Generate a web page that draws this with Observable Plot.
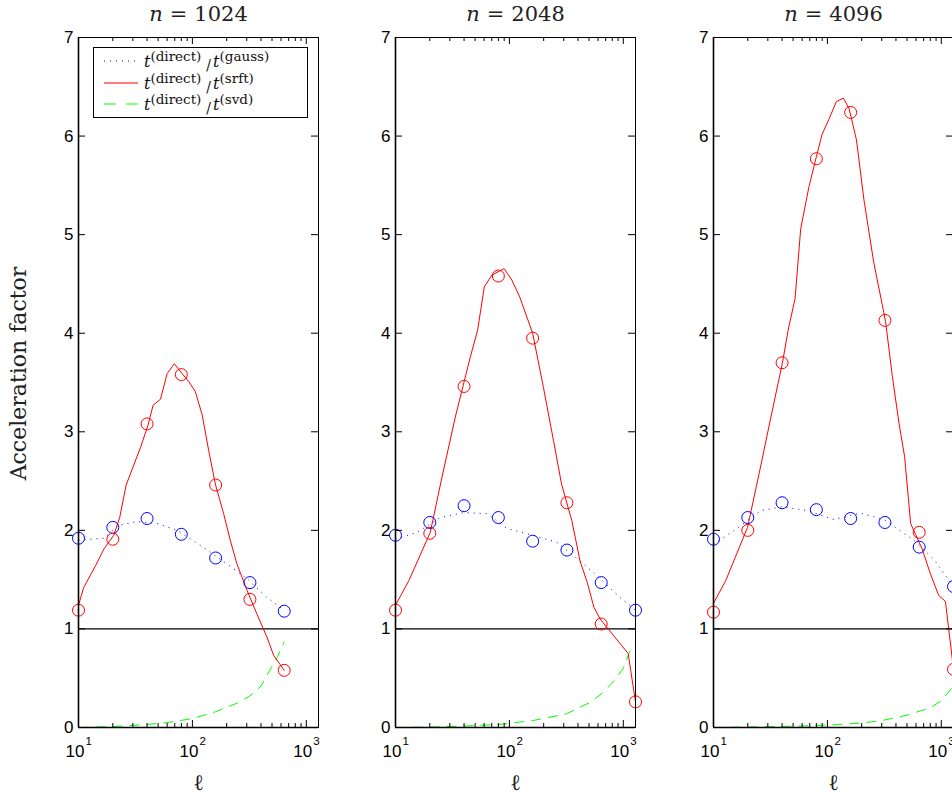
<!DOCTYPE html>
<html><head><meta charset="utf-8">
<script src="https://cdn.jsdelivr.net/npm/d3@7"></script>
<script src="https://cdn.jsdelivr.net/npm/@observablehq/plot@0.6"></script>
<style>
html,body{margin:0;padding:0;background:#fff;overflow:hidden;width:952px;height:797px;}
#wrap{position:relative;width:952px;height:797px;overflow:hidden;}
.panel{position:absolute;top:0;}
.legend{position:absolute;left:93px;top:47px;width:215px;height:71px;border:1px solid #000;background:#fff;box-sizing:border-box;}
.lrow{position:absolute;left:0;height:20px;width:212px;}
.lrow svg{position:absolute;left:9px;top:0;}
.lt{position:absolute;left:50px;top:2px;font-family:"DejaVu Serif",serif;font-size:16px;line-height:18px;color:#111;white-space:nowrap;}
.lt i{font-style:italic;}
.lt sup{font-size:13.5px;vertical-align:6px;line-height:0;}
.lt .sl{display:inline-block;transform:translateY(3px);margin:0 2px 0 5px;font-size:14px;}
</style></head><body><div id="wrap"></div>
<script>
// ---- data ----
const panelN = ["1024", "2048", "4096"];
const circleL = [10, 20, 40, 80, 160, 320, 640, 1280];

// n = 1024
const gaussCircles1 = [1.92, 2.03, 2.12, 1.96, 1.72, 1.47, 1.18];
const srftCircles1 = [1.19, 1.91, 3.08, 3.58, 2.46, 1.30, 0.58];
const srftLineL1 = [10, 11.1, 14.1, 16.7, 20.4, 23, 26.2, 35, 40.6, 45.2, 52.4, 60, 69.4, 81.2, 92.9, 106, 122, 139, 159, 188, 215, 246, 302, 369, 450, 518, 640];
const srftLineV1 = [1.24, 1.42, 1.64, 1.81, 1.95, 2.13, 2.46, 2.84, 3.06, 3.27, 3.33, 3.59, 3.69, 3.59, 3.51, 3.41, 3.17, 2.81, 2.47, 2.17, 1.90, 1.66, 1.39, 1.15, 0.92, 0.73, 0.58];
const gaussLineL1 = [10, 16.7, 22.6, 32.7, 49, 73.5, 117, 201, 302, 450, 640];
const gaussLineV1 = [1.90, 1.92, 2.05, 2.09, 2.07, 2.00, 1.85, 1.66, 1.51, 1.32, 1.19];
const svdLineL1 = [10, 20, 40, 60, 100, 160, 250, 320, 400, 500, 560, 640];
const svdLineV1 = [0.0, 0.01, 0.03, 0.05, 0.09, 0.16, 0.25, 0.32, 0.42, 0.62, 0.72, 0.87];

// n = 2048
const gaussCircles2 = [1.95, 2.08, 2.25, 2.13, 1.89, 1.80, 1.47, 1.19];
const srftCircles2 = [1.19, 1.97, 3.46, 4.58, 3.95, 2.28, 1.05, 0.26];
const srftLineL2 = [10, 13.1, 20.2, 25.6, 33.5, 45.4, 52.6, 60.2, 70.2, 90, 105, 123, 160, 199, 244, 287, 353, 417, 483, 552, 627, 1104, 1280];
const srftLineV2 = [1.24, 1.49, 1.98, 2.54, 3.15, 3.76, 4.03, 4.47, 4.59, 4.655, 4.54, 4.37, 4.0, 3.45, 2.91, 2.47, 2.10, 1.69, 1.47, 1.22, 1.10, 0.75, 0.26];
const gaussLineL2 = [10, 15.5, 24.8, 39.7, 63.6, 95, 160, 260, 417, 627, 935, 1280];
const gaussLineV2 = [1.91, 1.98, 2.13, 2.18, 2.17, 2.02, 1.95, 1.88, 1.69, 1.51, 1.32, 1.19];
const svdLineL2 = [10, 20, 40, 80, 160, 320, 500, 640, 800, 1000, 1200];
const svdLineV2 = [0.0, 0.005, 0.015, 0.03, 0.07, 0.14, 0.25, 0.34, 0.45, 0.6, 0.84];

// n = 4096
const gaussCircles3 = [1.91, 2.13, 2.28, 2.21, 2.12, 2.08, 1.83, 1.43];
const srftCircles3 = [1.17, 2.00, 3.70, 5.77, 6.24, 4.13, 1.98, 0.59];
const srftLineL3 = [10, 12.8, 19.9, 25.2, 31.8, 40.3, 45.2, 52, 58.3, 69, 80, 90, 103, 120, 138, 155, 180, 209, 255, 303, 324, 372, 425, 476, 538, 594, 680, 804, 949, 1087, 1280];
const srftLineV3 = [1.26, 1.49, 2.03, 2.58, 3.14, 3.70, 4.03, 4.35, 5.06, 5.49, 5.79, 6.02, 6.17, 6.35, 6.385, 6.28, 5.96, 5.36, 4.72, 4.29, 4.12, 3.56, 3.09, 2.75, 2.07, 1.96, 1.81, 1.556, 1.34, 1.28, 0.59];
const gaussLineL3 = [10, 15.2, 26, 40.3, 66.7, 114, 196, 314, 574, 861, 1280];
const gaussLineV3 = [1.86, 2.00, 2.20, 2.24, 2.20, 2.11, 2.175, 2.11, 1.90, 1.705, 1.43];
const svdLineL3 = [10, 40, 80, 120, 200, 300, 500, 800, 1000, 1280];
const svdLineV3 = [0.0, 0.01, 0.02, 0.03, 0.045, 0.07, 0.125, 0.2, 0.27, 0.42];

// ticks
const yTicks = [0, 1, 2, 3, 4, 5, 6, 7];
const xMajor = [10, 100, 1000];
const xMinor = [20, 30, 40, 50, 60, 70, 80, 90, 200, 300, 400, 500, 600, 700, 800, 900];
const yLabel = "Acceleration factor";
const xLabel = "ℓ";
const seriesNames = ["gauss", "srft", "svd"];

// ---- build ----
const zip = (L, V) => L.map((l, i) => ({l, v: V[i]}));
const panels = [
  {n: panelN[0], gc: gaussCircles1, sc: srftCircles1, sl: zip(srftLineL1, srftLineV1), gl: zip(gaussLineL1, gaussLineV1), vl: zip(svdLineL1, svdLineV1)},
  {n: panelN[1], gc: gaussCircles2, sc: srftCircles2, sl: zip(srftLineL2, srftLineV2), gl: zip(gaussLineL2, gaussLineV2), vl: zip(svdLineL2, svdLineV2)},
  {n: panelN[2], gc: gaussCircles3, sc: srftCircles3, sl: zip(srftLineL3, srftLineV3), gl: zip(gaussLineL3, gaussLineV3), vl: zip(svdLineL3, svdLineV3)}
];
const lefts = [0, 317, 635];
const BLUE = "#0000ff", RED = "#ff0000", GREEN = "#00ff00";
const W = 320, H = 797, ML = 78, MR = 2, MT = 37, MB = 70;
const PW = W - ML - MR, PH = H - MT - MB;
const serif = "DejaVu Serif, serif";
const sans = "Liberation Sans, Arial, Helvetica, sans-serif";

const wrap = document.getElementById("wrap");
panels.forEach((p, i) => {
  const gc = p.gc.map((v, k) => ({l: circleL[k], v}));
  const sc = p.sc.map((v, k) => ({l: circleL[k], v}));
  const marks = [
    Plot.ruleY([1], {stroke: "black", strokeWidth: 1.2}),
    Plot.line(p.vl, {x: "l", y: "v", stroke: GREEN, strokeWidth: 1, strokeDasharray: "10,7", strokeLinecap: "butt"}),
    Plot.line(p.gl, {x: "l", y: "v", stroke: BLUE, strokeWidth: 1, strokeDasharray: "1,5", strokeLinecap: "butt"}),
    Plot.line(p.sl, {x: "l", y: "v", stroke: RED, strokeWidth: 1}),
    Plot.dot(gc, {x: "l", y: "v", r: 6, stroke: BLUE, strokeWidth: 1, fill: "none"}),
    Plot.dot(sc, {x: "l", y: "v", r: 6, stroke: RED, strokeWidth: 1, fill: "none"}),
    Plot.frame({stroke: "black", strokeWidth: 1}),
    Plot.ruleX([10], {stroke: "black", strokeWidth: 1.6}),
    Plot.ruleY([0], {stroke: "black", strokeWidth: 1.6}),
    // y ticks (inward, left & right)
    Plot.ruleY(yTicks, {stroke: "black", strokeWidth: 1, insetRight: PW - 7}),
    Plot.ruleY(yTicks, {stroke: "black", strokeWidth: 1, insetLeft: PW - 7}),
    // x ticks (inward, bottom & top)
    Plot.ruleX(xMajor, {stroke: "black", strokeWidth: 1, insetTop: PH - 7}),
    Plot.ruleX(xMajor, {stroke: "black", strokeWidth: 1, insetBottom: PH - 7}),
    Plot.ruleX(xMinor, {stroke: "black", strokeWidth: 1, insetTop: PH - 4}),
    Plot.ruleX(xMinor, {stroke: "black", strokeWidth: 1, insetBottom: PH - 4}),
    // tick labels
    Plot.text(yTicks, {y: d => d, text: d => String(d), frameAnchor: "left", textAnchor: "end", lineAnchor: "middle", dx: -5, fontSize: 17, fontFamily: sans, fill: "black"}),
    Plot.text(xMajor, {x: d => d, text: () => "10", frameAnchor: "bottom", textAnchor: "end", lineAnchor: "middle", dx: 6, dy: 24, fontSize: 17, fontFamily: sans, fill: "black"}),
    Plot.text(xMajor, {x: d => d, text: d => String(Math.round(Math.log10(d))), frameAnchor: "bottom", textAnchor: "start", lineAnchor: "middle", dx: 7, dy: 14, fontSize: 11.5, fontFamily: sans, fill: "black"}),
    // axis label & title
    Plot.text([xLabel], {text: d => d, frameAnchor: "bottom", textAnchor: "middle", lineAnchor: "middle", dy: 55, fontSize: 22, fontFamily: serif, fill: "#222"}),
    Plot.text(["n = " + p.n], {text: d => d, frameAnchor: "top", textAnchor: "middle", lineAnchor: "middle", dy: -23, fontSize: 21, fontFamily: serif, fill: "#222", className: "ttl"})
  ];
  if (i === 0) {
    marks.push(Plot.text([yLabel], {text: d => d, frameAnchor: "left", textAnchor: "middle", lineAnchor: "middle", dx: -60, dy: -9, rotate: -90, fontSize: 22, fontFamily: serif, fill: "#222"}));
  }
  const svg = Plot.plot({
    width: W, height: H,
    marginLeft: ML, marginRight: MR, marginTop: MT, marginBottom: MB,
    x: {type: "log", domain: [10, 1280], axis: null},
    y: {domain: [0, 7], axis: null},
    style: {background: "transparent", overflow: "visible", fontFamily: sans, maxWidth: "none"},
    marks
  });
  svg.classList.add("panel");
  svg.style.left = lefts[i] + "px";
  // italic n and math spacing in title
  d3.select(svg).selectAll(".ttl text").each(function() {
    const t = this.textContent;
    const num = t.split("=")[1].trim();
    this.textContent = "";
    const s = d3.select(this);
    s.append("tspan").attr("font-style", "italic").text("n");
    s.append("tspan").attr("dx", 7).text("=");
    s.append("tspan").attr("dx", 7).text(num);
  });
  wrap.appendChild(svg);
});

// legend
const legend = document.createElement("div");
legend.className = "legend";
const styles = [
  {stroke: BLUE, dash: "1,5"},
  {stroke: RED, dash: "none"},
  {stroke: GREEN, dash: "12,10"}
];
const rowTops = [3, 24.5, 46];
seriesNames.forEach((s, k) => {
  const row = document.createElement("div");
  row.className = "lrow";
  row.style.top = rowTops[k] + "px";
  const st = styles[k];
  row.innerHTML = `<svg width="36" height="20"><line x1="1" x2="35" y1="10" y2="10" style="stroke:${st.stroke};stroke-width:1.2;stroke-dasharray:${st.dash}"></line></svg>` +
    `<span class="lt"><i>t</i><sup>(direct)</sup><span class="sl">/</span><i>t</i><sup>(${s})</sup></span>`;
  legend.appendChild(row);
});
wrap.appendChild(legend);
</script>
</body></html>
